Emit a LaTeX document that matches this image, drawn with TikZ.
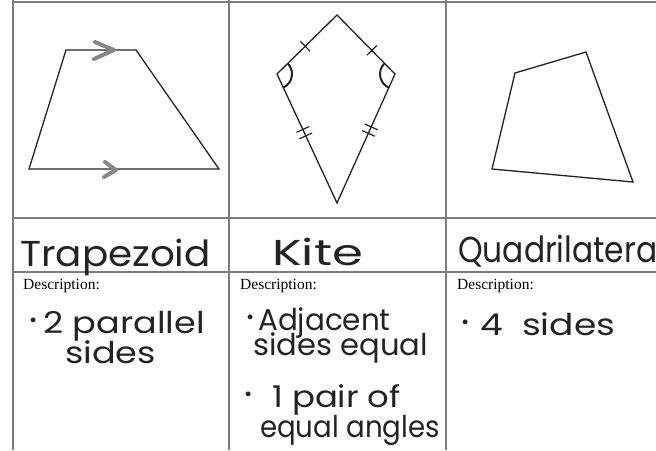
\documentclass[tikz,border=0pt]{standalone}
\usepackage{fontspec}
\usepackage{graphicx}
\usetikzlibrary{calc}
\newfontfamily\handfont{Poppins}
\newfontfamily\printfont{Liberation Serif}
\definecolor{RuleGray}{RGB}{125,125,125}
\definecolor{InkGray}{RGB}{35,35,35}
\definecolor{MarkerGray}{RGB}{135,135,135}
\newcommand{\bul}[1]{\makebox[#1][l]{\raisebox{10pt}{\scalebox{0.5}{$\bullet$}}}}
\newcommand{\wide}[2]{\scalebox{#1}[1]{#2}}

\begin{document}
\begin{tikzpicture}[x=1pt, y=1pt,
  rule/.style={RuleGray, line width=1.3pt},
  figline/.style={InkGray, line width=1.3pt, line join=miter},
  marker/.style={MarkerGray, line width=4pt, line cap=round, line join=round},
  tick/.style={InkGray, line width=1.2pt},
  title/.style={font=\handfont\fontsize{36}{36}\selectfont, text=InkGray, anchor=base west, inner sep=0pt},
  desc/.style={font=\printfont\fontsize{15.5}{15.5}\selectfont, text=black, anchor=base west, inner sep=0pt},
  hand/.style={font=\handfont\fontsize{30}{30}\selectfont, text=InkGray, anchor=base west, inner sep=0pt}]
  \useasboundingbox (0,0) rectangle (656,-450);
  \fill[white] (0,0) rectangle (656,-450);

  % table rules
  \foreach \x in {13,229,446}{
    \draw[rule] (\x,0) -- (\x,-450);
  }
  \foreach \y in {2,218,272}{
    \draw[rule] (13,-\y) -- (656,-\y);
  }

  % trapezoid
  \coordinate (tA) at (66,-50);
  \coordinate (tB) at (136,-50);
  \coordinate (tC) at (219,-169);
  \coordinate (tD) at (29,-169);
  \draw[figline] (tA) -- (tB) -- (tC) -- (tD) -- cycle;
  \draw[marker] (95,-42) -- (114,-50) -- (94,-59);
  \draw[marker] (105,-162) -- (116,-170) -- (104,-177);

  % kite
  \coordinate (kTop) at (337,-15);
  \coordinate (kL) at (277,-74);
  \coordinate (kR) at (395,-74);
  \coordinate (kBot) at (337,-203);
  \draw[figline] (kTop) -- (kR) -- (kBot) -- (kL) -- cycle;
  % single ticks
  \foreach \a/\b/\t in {kTop/kL/0.53, kTop/kR/0.6}{
    \coordinate (m) at ($(\a)!\t!(\b)$);
    \draw[tick] ($(m)!7pt!90:(\a)$) -- ($(m)!7pt!-90:(\a)$);
  }
  % double ticks
  \foreach \a/\b/\t in {kL/kBot/0.43, kR/kBot/0.41}{
    \foreach \s in {0,0.05}{
      \coordinate (m) at ($(\a)!\t+\s!(\b)$);
      \draw[tick] ($(m)!7pt!90:(\a)$) -- ($(m)!7pt!-90:(\a)$);
    }
  }
  % equal angles
  \draw[tick, line width=2pt] ([shift={(-65:15)}]kL) arc[start angle=-65, end angle=44.5, radius=15];
  \draw[tick, line width=2pt] ([shift={(134.5:15)}]kR) arc[start angle=134.5, end angle=245.8, radius=15];

  % quadrilateral
  \coordinate (qA) at (515,-73);
  \coordinate (qB) at (586,-52);
  \coordinate (qC) at (633,-182);
  \coordinate (qD) at (492,-169);
  \draw[figline] (qA) -- (qB) -- (qC) -- (qD) -- cycle;

  % names
  \node[title] (trapName) at (20,-266) {\wide{1.08}{Trapezoid}};
  \node[title] (kiteName) at (272,-265) {\wide{1.38}{Kite}};
  \node[title] (quadName) at (458,-262) {\wide{0.87}{Quadrilatera}};

  % descriptions
  \node[desc] (trapDesc) at (23,-289) {Description:};
  \node[desc] (kiteDesc) at (240,-289) {Description:};
  \node[desc] (quadDesc) at (457,-289) {Description:};

  \node[hand] (trapL1) at (30,-333) {\bul{13pt}\wide{1.17}{2 parallel}};
  \node[hand] (trapL2) at (65,-363) {\wide{1.17}{sides}};

  \node[hand] (kiteL1) at (247,-330) {\bul{11pt}\wide{0.98}{Adjacent}};
  \node[hand] (kiteL2) at (253,-355) {\wide{1.02}{sides equal}};
  \node[hand] (kiteL3) at (245,-407) {\bul{27pt}\wide{1.13}{1 pair of}};
  \node[hand] (kiteL4) at (260,-437) {\wide{0.92}{equal angles}};

  \node[hand] (quadL1) at (462,-335) {\bul{18pt}\wide{1.2}{4\hspace{16pt}sides}};
\end{tikzpicture}
\end{document}
